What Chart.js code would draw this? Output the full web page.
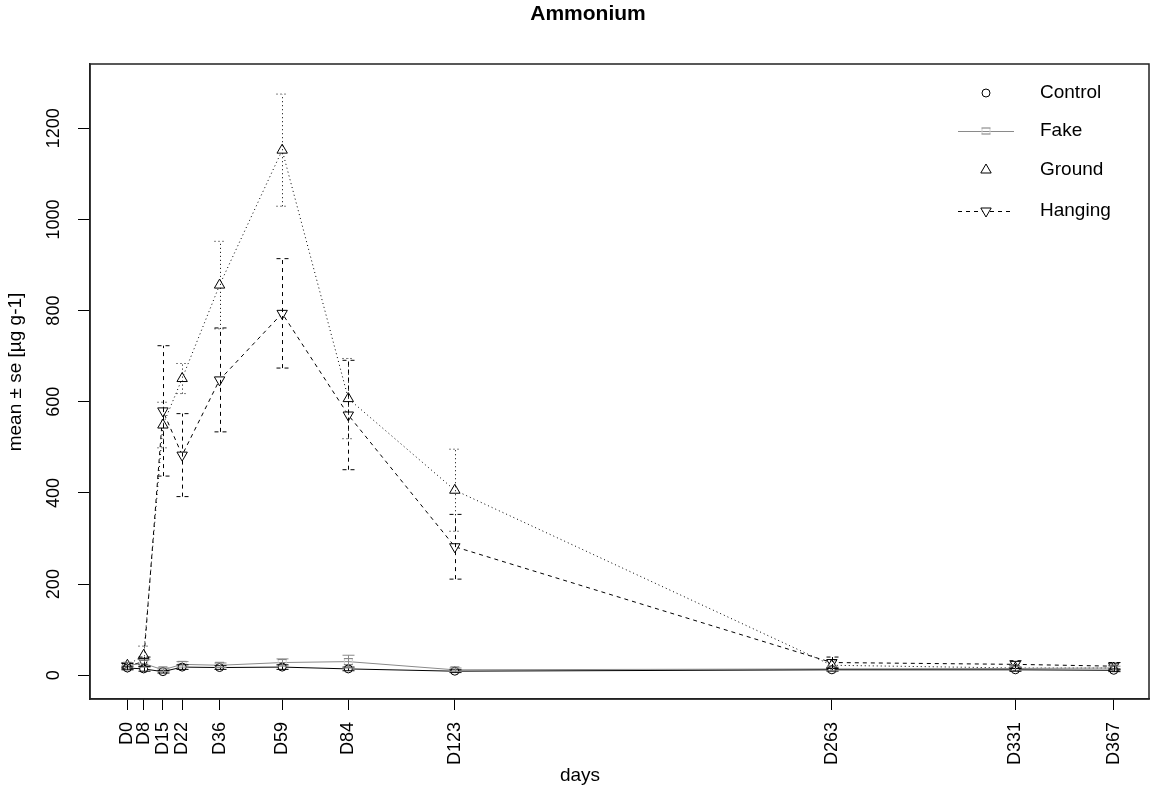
<!DOCTYPE html>
<html>
<head>
<meta charset="utf-8">
<title>Ammonium</title>
<script src="https://cdn.jsdelivr.net/npm/chart.js@4.4.1/dist/chart.umd.min.js"></script>
<style>
  html, body { margin: 0; padding: 0; background: #fff; }
  #wrap { width: 1156px; height: 792px; }
</style>
</head>
<body>
<div id="wrap"><canvas id="chart" width="1156" height="792"></canvas></div>
<script>
// sampling days (labels) and where they sit on the day axis
const dayLabels = ["D0", "D8", "D15", "D22", "D36", "D59", "D84", "D123", "D263", "D331", "D367"];
const dayPos = [3.1, 9.1, 16.2, 23.3, 37.1, 60.2, 84.6, 123.9, 263, 330.7, 367];
const yTicks = [0, 200, 400, 600, 800, 1000, 1200];

// mean and se per treatment
const controlMean = [16, 14, 8, 18, 17, 18, 14, 9, 12, 12, 11];
const controlSe = [4, 5, 3, 5, 4, 5, 4, 3, 3, 3, 3];
const fakeMean = [22, 26, 12, 24, 22, 28, 30, 12, 14, 15, 16];
const fakeSe = [6, 8, 4, 6, 5, 8, 14, 4, 4, 4, 4];
const groundMean = [22, 44, 549, 651, 856, 1152, 607, 406, 22, 16, 16];
const groundSe = [5, 20, 50, 33, 96, 123, 88, 90, 10, 6, 6];
const hangingMean = [20, 30, 580, 483, 648, 794, 571, 282, 28, 24, 20];
const hangingSe = [6, 10, 143, 91, 114, 120, 120, 71, 12, 8, 8];

const FONT = "'Liberation Sans', Arial, sans-serif";

// "=" like marker used for Fake
function makeFakeMarker() {
  const c = document.createElement("canvas");
  c.width = 11; c.height = 11;
  const g = c.getContext("2d");
  g.strokeStyle = "#d0d0d0";
  g.lineWidth = 1;
  g.strokeRect(1.5, 2.5, 8, 6);
  g.strokeStyle = "#777";
  g.beginPath();
  g.moveTo(1, 2.5); g.lineTo(10, 2.5);
  g.moveTo(1, 8.5); g.lineTo(10, 8.5);
  g.stroke();
  return c;
}
const fakeMarker = makeFakeMarker();

const series = [
  { label: "Control", mean: controlMean, se: controlSe, color: "#000", dash: [], style: "circle", radius: 4, rot: 0 },
  { label: "Fake", mean: fakeMean, se: fakeSe, color: "#8a8a8a", dash: [], style: fakeMarker, radius: 5, rot: 0 },
  { label: "Ground", mean: groundMean, se: groundSe, color: "#000", dash: [1, 3], style: "triangle", radius: 6, rot: 0 },
  { label: "Hanging", mean: hangingMean, se: hangingSe, color: "#000", dash: [4, 4], style: "triangle", radius: 6, rot: 180 },
];

const datasets = series.map(s => ({
  label: s.label,
  data: dayPos.map((x, i) => ({ x: x, y: s.mean[i] })),
  borderColor: s.color,
  borderWidth: 1,
  borderDash: s.dash,
  pointStyle: s.style,
  pointRadius: s.radius,
  pointRotation: s.rot,
  pointBorderColor: s.color,
  pointBackgroundColor: "#fff",
  pointBorderWidth: 1,
  tension: 0,
  fill: false,
}));

// box, error bars, titles and legend like base R graphics
const rDecor = {
  id: "rDecor",
  afterDatasetsDraw(chart) {
    const { ctx, chartArea: a, scales: { x, y } } = chart;
    ctx.save();
    ctx.beginPath();
    ctx.rect(a.left, a.top, a.right - a.left, a.bottom - a.top);
    ctx.clip();
    series.forEach(s => {
      ctx.strokeStyle = s.color;
      ctx.lineWidth = 1;
      ctx.setLineDash(s.dash);
      s.mean.forEach((m, i) => {
        const px = Math.round(x.getPixelForValue(dayPos[i])) + 0.5;
        const lo = y.getPixelForValue(m - s.se[i]);
        const hi = y.getPixelForValue(m + s.se[i]);
        ctx.beginPath();
        ctx.moveTo(px, lo); ctx.lineTo(px, hi);
        ctx.moveTo(px - 6, lo); ctx.lineTo(px + 6, lo);
        ctx.moveTo(px - 6, hi); ctx.lineTo(px + 6, hi);
        ctx.stroke();
      });
    });
    ctx.restore();

    ctx.save();
    ctx.setLineDash([]);
    ctx.strokeStyle = "#222";
    ctx.lineWidth = 1.5;
    ctx.strokeRect(a.left, a.top, a.right - a.left, a.bottom - a.top);

    ctx.fillStyle = "#000";
    ctx.textAlign = "center";
    ctx.textBaseline = "middle";
    ctx.font = "bold 21px " + FONT;
    ctx.fillText("Ammonium", 588, 14);
    ctx.font = "19px " + FONT;
    ctx.fillText("days", 580, 776);
    ctx.save();
    ctx.translate(16, 372);
    ctx.rotate(-Math.PI / 2);
    ctx.fillText("mean ± se [µg g-1]", 0, 0);
    ctx.restore();

    // legend
    const rows = [93, 131, 170, 211];
    const showLine = [false, true, false, true];
    series.forEach((s, i) => {
      const ly = rows[i];
      ctx.strokeStyle = s.color;
      ctx.lineWidth = 1;
      if (showLine[i]) {
        ctx.setLineDash(s.dash);
        ctx.beginPath();
        ctx.moveTo(958, ly + 0.5); ctx.lineTo(1014, ly + 0.5);
        ctx.stroke();
      }
      ctx.setLineDash([]);
      ctx.fillStyle = "#fff";
      Chart.helpers.drawPoint(ctx, {
        pointStyle: s.style, radius: s.radius, rotation: s.rot, borderWidth: 1,
      }, 986, ly);
      ctx.fillStyle = "#000";
      ctx.textAlign = "left";
      ctx.font = "19px " + FONT;
      ctx.fillText(s.label, 1040, ly);
    });
    ctx.restore();
  },
};

new Chart(document.getElementById("chart"), {
  type: "line",
  data: { datasets },
  options: {
    responsive: false,
    animation: false,
    layout: { padding: { top: 64, right: 4, left: 0, bottom: 0 } },
    plugins: { legend: { display: false }, tooltip: { enabled: false }, title: { display: false } },
    scales: {
      x: {
        type: "linear",
        position: "bottom",
        min: -10.7,
        max: 380,
        afterBuildTicks: s => { s.ticks = dayPos.map(v => ({ value: v })); },
        afterFit: s => { s.height = 93; },
        grid: { drawOnChartArea: false, drawTicks: true, tickLength: 11, color: "#000" },
        border: { display: true, color: "#222", width: 1.5 },
        ticks: {
          autoSkip: false,
          minRotation: 90,
          maxRotation: 90,
          padding: 12,
          color: "#000",
          font: { family: FONT, size: 18 },
          callback: (v, i) => dayLabels[i],
        },
      },
      y: {
        type: "linear",
        position: "left",
        min: -52,
        max: 1341,
        afterBuildTicks: s => { s.ticks = yTicks.map(v => ({ value: v })); },
        afterFit: s => { s.width = 90; },
        grid: { drawOnChartArea: false, drawTicks: true, tickLength: 12, color: "#000" },
        border: { display: true, color: "#222", width: 1.5 },
        ticks: {
          minRotation: 90,
          maxRotation: 90,
          crossAlign: "center",
          padding: 4,
          color: "#000",
          font: { family: FONT, size: 18 },
          callback: v => String(v),
        },
      },
    },
  },
  plugins: [rDecor],
});
</script>
</body>
</html>
